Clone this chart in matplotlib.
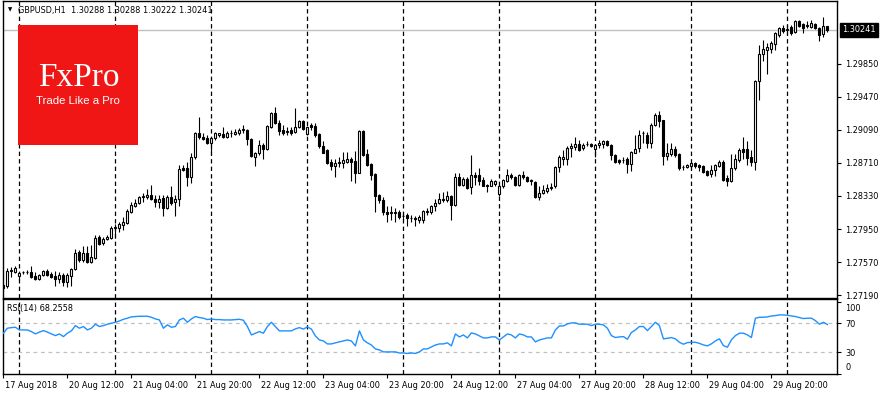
import numpy as np
import pandas as pd
import matplotlib
matplotlib.use("Agg")
import matplotlib.pyplot as plt
import matplotlib.transforms as mtransforms
from matplotlib.patches import Rectangle

# GBPUSD H1, 17 Aug 2018 20:00 .. 30 Aug 2018 10:00 (broker time)
sessions = [("2018-08-17 20:00", 4), ("2018-08-20", 24), ("2018-08-21", 24),
            ("2018-08-22", 24), ("2018-08-23", 24), ("2018-08-24", 24),
            ("2018-08-27", 24), ("2018-08-28", 24), ("2018-08-29", 24),
            ("2018-08-30", 11)]

opens = [
    1.2731, 1.2729, 1.2747, 1.2745, 1.2741, 1.2745, 1.2745, 1.2746, 1.2741, 1.2737,
    1.2742, 1.2747, 1.2743, 1.2741, 1.2737, 1.2742, 1.2734, 1.2741, 1.2749, 1.2768,
    1.2759, 1.2767, 1.2757, 1.2762, 1.2786, 1.2779, 1.2783, 1.2785, 1.2796, 1.2796,
    1.2800, 1.2802, 1.2815, 1.2821, 1.2825, 1.2832, 1.2832, 1.2834, 1.2830, 1.2826,
    1.2831, 1.2819, 1.2832, 1.2826, 1.2829, 1.2865, 1.2865, 1.2855, 1.2878, 1.2905,
    1.2901, 1.2900, 1.2894, 1.2900, 1.2903, 1.2904, 1.2901, 1.2905, 1.2904, 1.2906,
    1.2909, 1.2909, 1.2899, 1.2878, 1.2882, 1.2892, 1.2887, 1.2912, 1.2929, 1.2917,
    1.2909, 1.2907, 1.2909, 1.2907, 1.2912, 1.2919, 1.2904, 1.2915, 1.2914, 1.2904,
    1.2891, 1.2886, 1.2872, 1.2867, 1.2871, 1.2871, 1.2872, 1.2876, 1.2873, 1.2860,
    1.2908, 1.2881, 1.2870, 1.2858, 1.2834, 1.2828, 1.2815, 1.2813, 1.2814, 1.2815,
    1.2810, 1.2811, 1.2808, 1.2808, 1.2805, 1.2805, 1.2814, 1.2814, 1.2821, 1.2825,
    1.2828, 1.2828, 1.2833, 1.2823, 1.2855, 1.2846, 1.2852, 1.2843, 1.2857, 1.2857,
    1.2851, 1.2845, 1.2845, 1.2847, 1.2835, 1.2844, 1.2850, 1.2857, 1.2855, 1.2846,
    1.2857, 1.2855, 1.2850, 1.2849, 1.2832, 1.2837, 1.2839, 1.2842, 1.2844, 1.2866,
    1.2876, 1.2876, 1.2888, 1.2889, 1.2893, 1.2888, 1.2893, 1.2893, 1.2887, 1.2892,
    1.2893, 1.2896, 1.2892, 1.2880, 1.2874, 1.2874, 1.2876, 1.2870, 1.2883, 1.2888,
    1.2905, 1.2903, 1.2894, 1.2915, 1.2926, 1.2920, 1.2879, 1.2881, 1.2887, 1.2881,
    1.2866, 1.2866, 1.2867, 1.2871, 1.2869, 1.2867, 1.2862, 1.2858, 1.2863, 1.2867,
    1.2872, 1.2854, 1.2850, 1.2865, 1.2874, 1.2887, 1.2887, 1.2878, 1.2872, 1.2965,
    1.2996, 1.3001, 1.3002, 1.3008, 1.3018, 1.3026, 1.3024, 1.3028, 1.3022, 1.3034,
    1.3031, 1.3029, 1.3028, 1.3031, 1.3026, 1.3019, 1.30288]

highs = [
    1.2733, 1.2750, 1.2751, 1.2752, 1.2746, 1.2747, 1.2748, 1.2752, 1.2745, 1.2743,
    1.2748, 1.2749, 1.2746, 1.2747, 1.2746, 1.2744, 1.2744, 1.2750, 1.2772, 1.2771,
    1.2775, 1.2775, 1.2777, 1.2788, 1.2788, 1.2786, 1.2788, 1.2798, 1.2801, 1.2803,
    1.2809, 1.2818, 1.2826, 1.2829, 1.2833, 1.2837, 1.2841, 1.2846, 1.2834, 1.2834,
    1.2834, 1.2834, 1.2844, 1.2834, 1.2869, 1.2869, 1.2872, 1.2882, 1.2907, 1.2924,
    1.2905, 1.2903, 1.2901, 1.2907, 1.2906, 1.2912, 1.2908, 1.2909, 1.2910, 1.2911,
    1.2915, 1.2910, 1.2900, 1.2884, 1.2897, 1.2894, 1.2915, 1.2930, 1.2935, 1.2920,
    1.2915, 1.2912, 1.2912, 1.2934, 1.2920, 1.2920, 1.2913, 1.2917, 1.2917, 1.2905,
    1.2896, 1.2887, 1.2876, 1.2876, 1.2878, 1.2884, 1.2884, 1.2878, 1.2885, 1.2909,
    1.2909, 1.2887, 1.2871, 1.2859, 1.2835, 1.2832, 1.2821, 1.2821, 1.2819, 1.2817,
    1.2813, 1.2813, 1.2811, 1.2810, 1.2811, 1.2817, 1.2819, 1.2823, 1.2830, 1.2836,
    1.2838, 1.2839, 1.2834, 1.2860, 1.2860, 1.2855, 1.2855, 1.2880, 1.2861, 1.2865,
    1.2855, 1.2847, 1.2852, 1.2851, 1.2846, 1.2852, 1.2864, 1.2859, 1.2856, 1.2858,
    1.2862, 1.2856, 1.2853, 1.2850, 1.2844, 1.2846, 1.2847, 1.2848, 1.2868, 1.2880,
    1.2886, 1.2891, 1.2894, 1.2901, 1.2898, 1.2894, 1.2896, 1.2894, 1.2893, 1.2897,
    1.2897, 1.2897, 1.2893, 1.2881, 1.2876, 1.2878, 1.2878, 1.2885, 1.2903, 1.2909,
    1.2908, 1.2907, 1.2917, 1.2929, 1.2931, 1.2921, 1.2894, 1.2894, 1.2890, 1.2882,
    1.2869, 1.2870, 1.2872, 1.2872, 1.2870, 1.2869, 1.2863, 1.2869, 1.2870, 1.2874,
    1.2874, 1.2857, 1.2881, 1.2881, 1.2888, 1.2901, 1.2896, 1.2886, 1.2966, 1.3007,
    1.3013, 1.3009, 1.3011, 1.3022, 1.3027, 1.3030, 1.3030, 1.3030, 1.3035, 1.3036,
    1.3032, 1.3034, 1.3036, 1.3032, 1.3027, 1.3039, 1.30288]

lows = [
    1.2725, 1.2727, 1.2740, 1.2744, 1.2736, 1.2743, 1.2743, 1.2739, 1.2736, 1.2736,
    1.2741, 1.2741, 1.2739, 1.2729, 1.2733, 1.2729, 1.2728, 1.2729, 1.2748, 1.2757,
    1.2757, 1.2756, 1.2756, 1.2760, 1.2777, 1.2777, 1.2782, 1.2784, 1.2785, 1.2792,
    1.2794, 1.2801, 1.2813, 1.2820, 1.2824, 1.2826, 1.2830, 1.2828, 1.2820, 1.2819,
    1.2810, 1.2818, 1.2823, 1.2810, 1.2821, 1.2862, 1.2844, 1.2848, 1.2876, 1.2899,
    1.2898, 1.2893, 1.2882, 1.2898, 1.2901, 1.2900, 1.2900, 1.2901, 1.2903, 1.2903,
    1.2906, 1.2892, 1.2878, 1.2867, 1.2880, 1.2876, 1.2886, 1.2911, 1.2916, 1.2903,
    1.2903, 1.2903, 1.2903, 1.2905, 1.2911, 1.2909, 1.2903, 1.2909, 1.2901, 1.2888,
    1.2882, 1.2870, 1.2863, 1.2855, 1.2866, 1.2865, 1.2871, 1.2850, 1.2848, 1.2859,
    1.2879, 1.2867, 1.2851, 1.2815, 1.2825, 1.2811, 1.2803, 1.2805, 1.2803, 1.2807,
    1.2805, 1.2798, 1.2803, 1.2798, 1.2802, 1.2802, 1.2811, 1.2812, 1.2816, 1.2824,
    1.2826, 1.2826, 1.2805, 1.2821, 1.2845, 1.2844, 1.2841, 1.2835, 1.2846, 1.2846,
    1.2844, 1.2838, 1.2844, 1.2844, 1.2833, 1.2842, 1.2849, 1.2852, 1.2845, 1.2845,
    1.2852, 1.2849, 1.2846, 1.2831, 1.2828, 1.2835, 1.2837, 1.2840, 1.2842, 1.2861,
    1.2869, 1.2869, 1.2878, 1.2886, 1.2885, 1.2886, 1.2890, 1.2889, 1.2878, 1.2888,
    1.2888, 1.2890, 1.2874, 1.2871, 1.2870, 1.2871, 1.2860, 1.2862, 1.2882, 1.2884,
    1.2894, 1.2888, 1.2888, 1.2913, 1.2912, 1.2869, 1.2874, 1.2879, 1.2878, 1.2863,
    1.2863, 1.2865, 1.2865, 1.2865, 1.2862, 1.2860, 1.2856, 1.2855, 1.2856, 1.2866,
    1.2850, 1.2844, 1.2849, 1.2863, 1.2872, 1.2876, 1.2869, 1.2867, 1.2863, 1.2944,
    1.2988, 1.2973, 1.2997, 1.3001, 1.3016, 1.3021, 1.3018, 1.3018, 1.3021, 1.3027,
    1.3020, 1.3026, 1.3026, 1.3025, 1.3011, 1.3016, 1.30222]

closes = [
    1.2727, 1.2747, 1.2748, 1.2750, 1.2744, 1.2745, 1.2746, 1.2740, 1.2737, 1.2742,
    1.2747, 1.2742, 1.2740, 1.2737, 1.2742, 1.2734, 1.2742, 1.2749, 1.2767, 1.2759,
    1.2767, 1.2757, 1.2763, 1.2785, 1.2778, 1.2783, 1.2786, 1.2796, 1.2797, 1.2801,
    1.2803, 1.2816, 1.2823, 1.2825, 1.2832, 1.2833, 1.2834, 1.2829, 1.2826, 1.2830,
    1.2819, 1.2832, 1.2825, 1.2829, 1.2864, 1.2863, 1.2855, 1.2878, 1.2906, 1.2901,
    1.2899, 1.2894, 1.2900, 1.2906, 1.2905, 1.2901, 1.2905, 1.2906, 1.2907, 1.2909,
    1.2910, 1.2899, 1.2879, 1.2883, 1.2892, 1.2887, 1.2913, 1.2929, 1.2917, 1.2908,
    1.2906, 1.2908, 1.2905, 1.2912, 1.2919, 1.2910, 1.2912, 1.2912, 1.2903, 1.2890,
    1.2883, 1.2871, 1.2867, 1.2871, 1.2872, 1.2874, 1.2876, 1.2872, 1.2860, 1.2908,
    1.2880, 1.2869, 1.2857, 1.2833, 1.2828, 1.2814, 1.2812, 1.2814, 1.2813, 1.2809,
    1.2810, 1.2808, 1.2808, 1.2807, 1.2809, 1.2816, 1.2816, 1.2821, 1.2825, 1.2830,
    1.2830, 1.2833, 1.2823, 1.2855, 1.2846, 1.2852, 1.2842, 1.2857, 1.2855, 1.2850,
    1.2845, 1.2846, 1.2850, 1.2850, 1.2844, 1.2851, 1.2857, 1.2855, 1.2846, 1.2857,
    1.2855, 1.2850, 1.2851, 1.2832, 1.2837, 1.2840, 1.2842, 1.2843, 1.2866, 1.2878,
    1.2878, 1.2888, 1.2890, 1.2893, 1.2886, 1.2892, 1.2893, 1.2891, 1.2892, 1.2894,
    1.2896, 1.2892, 1.2880, 1.2872, 1.2872, 1.2874, 1.2870, 1.2884, 1.2887, 1.2903,
    1.2906, 1.2894, 1.2915, 1.2926, 1.2919, 1.2879, 1.2882, 1.2887, 1.2880, 1.2865,
    1.2866, 1.2869, 1.2871, 1.2867, 1.2866, 1.2861, 1.2857, 1.2863, 1.2869, 1.2872,
    1.2851, 1.2850, 1.2865, 1.2875, 1.2886, 1.2884, 1.2877, 1.2872, 1.2965, 1.2996,
    1.3002, 1.3004, 1.3009, 1.3020, 1.3026, 1.3023, 1.3025, 1.3021, 1.3034, 1.3029,
    1.3026, 1.3030, 1.3032, 1.3026, 1.3018, 1.3029, 1.30241]

rsi = [
    56.3, 63.2, 64.0, 64.5, 60.8, 60.8, 60.8, 58.5, 55.3, 57.8,
    59.9, 57.8, 55.3, 53.0, 55.3, 51.6, 56.3, 59.5, 66.8, 63.2,
    65.5, 60.8, 63.2, 68.7, 65.5, 66.8, 68.7, 70.0, 71.4, 73.2,
    75.5, 77.0, 78.8, 79.3, 79.7, 79.7, 79.7, 78.3, 76.0, 74.6,
    63.2, 67.8, 64.5, 65.5, 74.6, 77.0, 71.4, 76.0, 79.3, 77.9,
    77.0, 75.1, 76.0, 75.1, 75.1, 74.6, 74.6, 74.6, 75.1, 75.5,
    74.2, 65.5, 53.9, 56.3, 58.5, 56.3, 65.5, 71.4, 65.5, 59.5,
    59.5, 59.5, 59.5, 62.3, 64.0, 62.0, 65.0, 62.0, 52.5, 47.0,
    45.7, 41.5, 41.5, 43.0, 44.3, 45.7, 47.0, 45.5, 38.8, 59.5,
    47.0, 43.0, 40.0, 34.6, 33.2, 30.5, 30.5, 30.5, 30.5, 29.0,
    29.0, 28.4, 29.0, 28.4, 30.5, 34.6, 34.6, 37.4, 40.0, 41.5,
    41.5, 43.0, 38.8, 55.3, 51.2, 53.9, 49.8, 56.7, 55.3, 52.5,
    49.8, 49.8, 51.2, 51.2, 47.0, 51.2, 55.3, 53.9, 49.8, 55.3,
    53.9, 51.2, 51.2, 44.3, 47.0, 48.4, 49.8, 49.8, 60.8, 66.3,
    66.3, 69.1, 70.5, 70.5, 68.7, 68.7, 68.7, 66.8, 68.7, 68.7,
    67.8, 63.2, 53.0, 50.3, 51.2, 51.6, 48.0, 57.3, 60.8, 65.5,
    65.5, 59.9, 65.5, 71.4, 66.8, 48.5, 49.3, 50.3, 48.5, 43.8,
    41.1, 43.3, 43.8, 43.8, 42.3, 40.1, 38.8, 41.6, 45.7, 48.5,
    39.2, 37.0, 47.1, 53.0, 56.3, 56.3, 54.0, 50.3, 77.0, 78.3,
    78.3, 78.8, 80.1, 80.6, 81.5, 81.5, 81.1, 80.1, 79.3, 77.9,
    76.5, 77.0, 77.0, 73.7, 68.7, 71.4, 68.2558]

price_ticks = [1.27190, 1.27570, 1.27950, 1.28330, 1.28710, 1.29090, 1.29470, 1.29850]
rsi_ticks = [0, 30, 70, 100]
rsi_levels = [30, 70]

times = pd.DatetimeIndex(np.concatenate(
    [pd.date_range(s, periods=n, freq="h").values for s, n in sessions]))
x = np.arange(len(times))
o = np.array(opens); h = np.array(highs); l = np.array(lows); c = np.array(closes)

FS = 5.9
plt.rcParams["font.family"] = "DejaVu Sans"

fig = plt.figure(figsize=(8.8, 3.95), dpi=100)
W, H = 880.0, 395.0
ax = fig.add_axes([3 / W, 1 - 298 / H, 834 / W, 297 / H])
ax2 = fig.add_axes([3 / W, 1 - 374 / H, 834 / W, 75 / H])

# candles
up = c >= o
ax.vlines(x, l, h, color="black", lw=0.8, zorder=2)
ax.bar(x, np.abs(c - o), width=0.5, bottom=np.minimum(o, c),
       color=np.where(up, "white", "black"), edgecolor="black", linewidth=0.8, zorder=3)

# day separators
day_starts = [i for i in range(1, len(times)) if times[i].date() != times[i - 1].date()]
for a in (ax, ax2):
    for i in day_starts:
        a.axvline(i, color="black", lw=0.9, ls=(0, (3.5, 2.5)), zorder=1)
    a.set_xlim(-0.1, 208.4)
    for s in a.spines.values():
        s.set_linewidth(1.0)
        s.set_color("black")

# current price line + label
ax.axhline(c[-1], color="#c0c0c0", lw=1.0, zorder=1)
ax.set_ylim(1.27156, 1.30574)
ax.yaxis.tick_right()
ax.set_yticks(price_ticks)
ax.set_yticklabels([f"{v:.5f}" for v in price_ticks])
ax.tick_params(axis="y", direction="out", length=3, width=0.8, pad=3, labelsize=FS)
ax.tick_params(axis="x", bottom=False, labelbottom=False)
tr = mtransforms.blended_transform_factory(ax.transAxes, ax.transData)
ax.text(1.0 + 5 / 834, c[-1], f"{c[-1]:.5f}", transform=tr, ha="left", va="center",
        fontsize=FS, color="white",
        bbox=dict(boxstyle="square,pad=0.3", fc="black", ec="black"), clip_on=False)

# RSI panel
ax2.plot(x, rsi, color="#1e90ff", lw=1.0, zorder=3)
for lv in rsi_levels:
    ax2.axhline(lv, color="#c0c0c0", lw=0.9, ls=(0, (3, 3)), zorder=1)
ax2.set_ylim(0, 103.5)
ax2.yaxis.tick_right()
ax2.set_yticks(rsi_ticks)
ax2.set_yticklabels([str(v) for v in rsi_ticks])
ax2.tick_params(axis="y", direction="out", length=3, width=0.8, pad=3, labelsize=FS)
for lab, dy in zip(ax2.get_yticklabels(), [7, 0, 0, -5.5]):
    lab.set_transform(lab.get_transform() + mtransforms.ScaledTranslation(0, dy / 100, fig.dpi_scale_trans))

lab_idx = list(range(0, len(times), 16))
lab_txt = [times[i].strftime("%d %b %Y") if i == 0 else times[i].strftime("%d %b %H:%M") for i in lab_idx]
ax2.set_xticks(lab_idx)
ax2.set_xticklabels(lab_txt, ha="left")
ax2.tick_params(axis="x", direction="out", length=3, width=0.8, pad=2, labelsize=FS)
for lab in ax2.get_xticklabels():
    lab.set_transform(lab.get_transform() + mtransforms.ScaledTranslation(2 / 100, 0, fig.dpi_scale_trans))

ax2.text(7 / W, 1 - 309 / H, f"RSI(14) {rsi[-1]:.4f}", transform=fig.transFigure,
         fontsize=FS, va="center", ha="left")

# header
fig.text(10 / W, 1 - 10 / H, "\u25bc", fontsize=4, va="center", ha="center")
fig.text(18 / W, 1 - 10 / H, f"GBPUSD,H1  {o[-1]:.5f} {h[-1]:.5f} {l[-1]:.5f} {c[-1]:.5f}",
         fontsize=FS, va="center", ha="left")

# logo
fig.add_artist(Rectangle((17.7 / W, 1 - 145 / H), 120 / W, 120 / H, transform=fig.transFigure,
                         fc="#f01616", ec="none", zorder=5))
fig.text(79 / W, 1 - 78 / H, "FxPro", fontsize=24, color="white", family="Liberation Serif",
         ha="center", va="center", zorder=6)
fig.text(78 / W, 1 - 101 / H, "Trade Like a Pro", fontsize=8.2, color="white",
         family="Liberation Sans", ha="center", va="center", zorder=6)

fig.savefig("out.png", dpi=100)
